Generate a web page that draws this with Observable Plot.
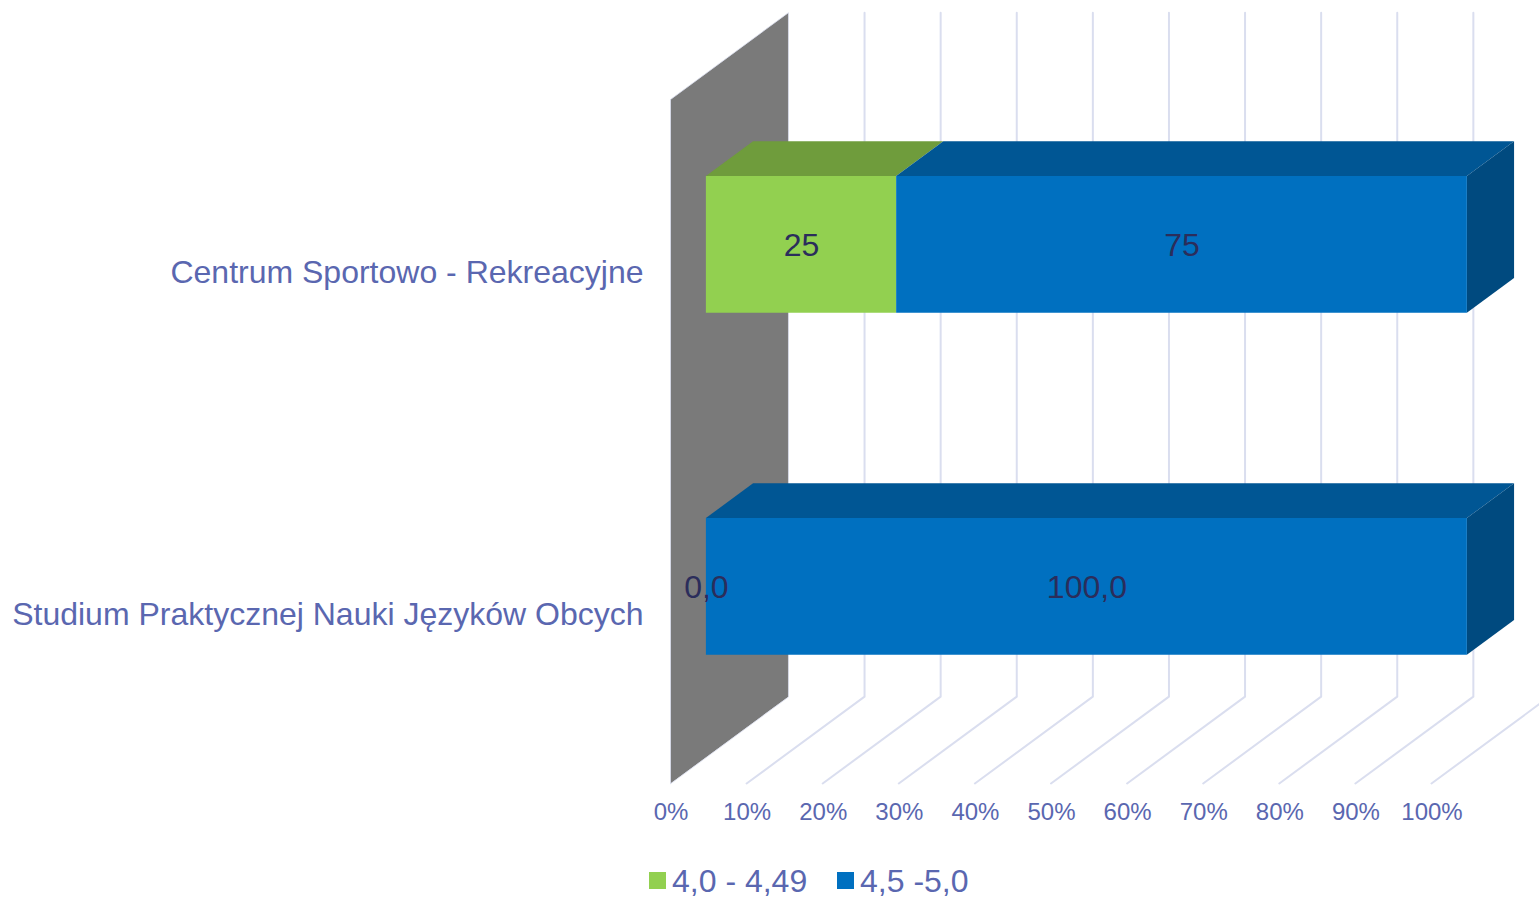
<!DOCTYPE html>
<html lang="pl">
<head>
<meta charset="utf-8">
<script src="https://cdn.jsdelivr.net/npm/d3@7"></script>
<script src="https://cdn.jsdelivr.net/npm/@observablehq/plot@0.6"></script>
<style>
  html, body { margin: 0; padding: 0; background: #fff; overflow: hidden; }
  body { font-family: "Liberation Sans", Arial, sans-serif; }
  svg { display: block; }
  #legend { position: relative; height: 37px; color: #5a67b0; font-size: 32px; }
  #legend span { position: absolute; top: 3px; line-height: 36px; white-space: nowrap; }
  #legend i { position: absolute; top: 12px; width: 17px; height: 17px; }
</style>
</head>
<body>
<div id="chart"></div>
<div id="legend"></div>
<script>
const categories = ["Centrum Sportowo - Rekreacyjne", "Studium Praktycznej Nauki Języków Obcych"];
const categoryCentre = [75, 25];
const seriesNames = ["4,0 - 4,49", "4,5 -5,0"];
const lowSeries = [25, 0];
const highSeries = [75, 100];
const lowLabels = ["25", "0,0"];
const highLabels = ["75", "100,0"];
const axisTicks = [0, 10, 20, 30, 40, 50, 60, 70, 80, 90, 100];

const frontColors = ["#92d050", "#0070c0"];
const topColors = ["#6f9c3c", "#005694"];
const sideColors = ["#4a7028", "#004a7f"];

// oblique projection: depth d in 0..1 shifts a point right and up
const shiftX = 15.5, shiftY = 12.7, barFront = 0.3, barBack = 0.7, halfBar = 10;
const pt = (p, h, d) => ({x: p + shiftX * d, y: h + shiftY * d});

const face = (id, fill, pts) => pts.map(q => ({...q, id, fill}));

const tops = [], sides = [], fronts = [], labels = [];
categories.forEach((c, i) => {
  const lo = categoryCentre[i] - halfBar, hi = categoryCentre[i] + halfBar;
  const segments = [
    {a: 0, b: lowSeries[i], s: 0, text: lowLabels[i]},
    {a: lowSeries[i], b: lowSeries[i] + highSeries[i], s: 1, text: highLabels[i]}
  ];
  segments.forEach(({a, b, s, text}) => {
    const id = i + "-" + s;
    if (b > a) {
      tops.push(...face("t" + id, topColors[s], [pt(a, hi, barFront), pt(b, hi, barFront), pt(b, hi, barBack), pt(a, hi, barBack)]));
      fronts.push(...face("f" + id, frontColors[s], [pt(a, lo, barFront), pt(b, lo, barFront), pt(b, hi, barFront), pt(a, hi, barFront)]));
    }
    labels.push({...pt((a + b) / 2, categoryCentre[i], barFront), text});
  });
  const end = lowSeries[i] + highSeries[i];
  sides.push(...face("s" + i, sideColors[1], [pt(end, lo, barFront), pt(end, lo, barBack), pt(end, hi, barBack), pt(end, hi, barFront)]));
});

const grid = axisTicks.slice(1).flatMap(t => [pt(t, 0, 0), pt(t, 0, 1), pt(t, 100, 1)].map(q => ({...q, t})));
const wall = [pt(0, 0, 0), pt(0, 100, 0), pt(0, 100, 1), pt(0, 0, 1)];
const catLabels = categories.map((c, i) => ({c, y: categoryCentre[i]}));

const chart = Plot.plot({
  width: 1539,
  height: 860,
  marginLeft: 0, marginRight: 0, marginTop: 0, marginBottom: 0,
  x: {domain: [0, 100], range: [670, 1431], axis: null},
  y: {domain: [0, 100], range: [783, 99], axis: null},
  color: {type: "identity"},
  style: {fontFamily: "'Liberation Sans', Arial, sans-serif", background: "transparent", overflow: "hidden"},
  marks: [
    Plot.line(grid, {x: "x", y: "y", z: "t", stroke: "#dadeef", strokeWidth: 2}),
    Plot.line(wall, {x: "x", y: "y", fill: "#7a7a7a", stroke: "#dadeef", strokeWidth: 0.8, curve: "linear-closed"}),
    Plot.line(tops, {x: "x", y: "y", z: "id", fill: "fill", stroke: null, curve: "linear-closed"}),
    Plot.line(sides, {x: "x", y: "y", z: "id", fill: "fill", stroke: null, curve: "linear-closed"}),
    Plot.line(fronts, {x: "x", y: "y", z: "id", fill: "fill", stroke: null, curve: "linear-closed"}),
    Plot.text(labels, {x: "x", y: "y", text: "text", dx: 0.5, dy: 1, fontSize: 32, fill: "#2b2d5b"}),
    Plot.text(catLabels, {x: 0, y: "y", text: "c", textAnchor: "end", dx: -27, dy: 2, fontSize: 32, fill: "#5a67b0"}),
    Plot.text(axisTicks, {x: d => d, frameAnchor: "bottom", dx: 0.5, dy: -41, text: d => d + "%", fontSize: 24, fill: "#5a67b0"})
  ]
});
document.getElementById("chart").appendChild(chart);

const legend = document.getElementById("legend");
const swatchX = [649, 837], textX = [672, 860];
seriesNames.forEach((name, i) => {
  const sw = document.createElement("i");
  sw.style.left = swatchX[i] + "px";
  sw.style.background = frontColors[i];
  legend.appendChild(sw);
  const t = document.createElement("span");
  t.style.left = textX[i] + "px";
  t.textContent = name;
  legend.appendChild(t);
});
</script>
</body>
</html>
